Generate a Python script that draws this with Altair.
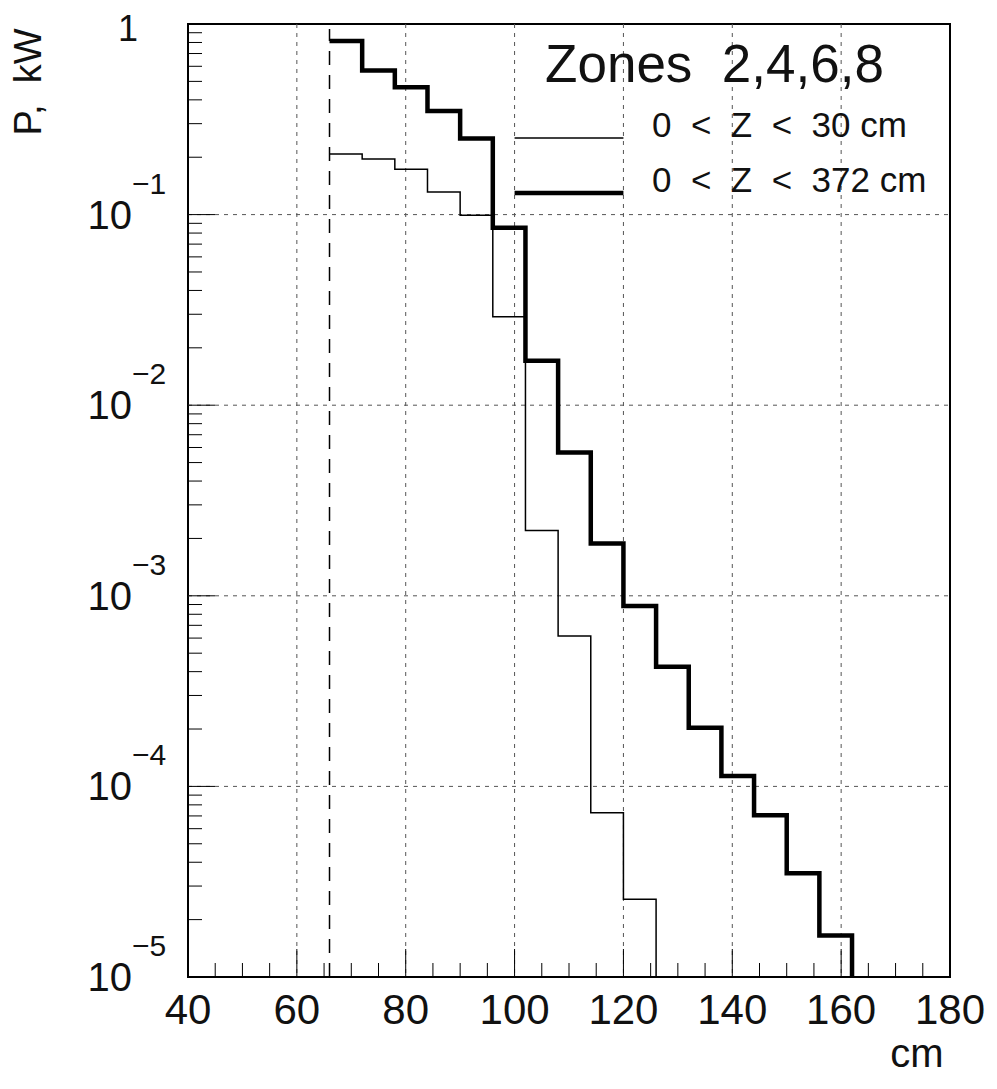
import altair as alt
import pandas as pd

# ---- data ----
bin_edges = [66, 72, 78, 84, 90, 96, 102, 108, 114, 120, 126, 132, 138, 144, 150, 156, 162]
p_full = [0.814, 0.571, 0.466, 0.350, 0.251, 0.0854, 0.01713, 0.00564, 0.00188,
          0.000884, 0.000424, 0.000203, 0.0001135, 7.05e-5, 3.50e-5, 1.65e-5]   # 0 < Z < 372 cm
p_30 = [0.208, 0.196, 0.173, 0.1315, 0.0991, 0.0291, 0.00220, 0.000615, 7.28e-5, 2.56e-5]  # 0 < Z < 30 cm
NB = "\u00a0"
S2 = NB + NB
series_names = [f"0{S2}<{S2}Z{S2}<{S2}30{NB}cm", f"0{S2}<{S2}Z{S2}<{S2}372{NB}cm"]
title_text = f"Zones{NB}{NB}2,4,6,8"

x_major = [40, 60, 80, 100, 120, 140, 160, 180]
x_minor = [v for v in range(45, 180, 5) if v % 20 != 0]
x_grid = [60, 80, 100, 120, 140, 160]
decades = [1e-1, 1e-2, 1e-3, 1e-4, 1e-5]
exponents = ["\u22121", "\u22122", "\u22123", "\u22124", "\u22125"]
y_grid = [1e-1, 1e-2, 1e-3, 1e-4]
y_minor = [m * 10.0 ** k for k in range(-5, 0) for m in range(2, 10)]
cut_x = 66
cut_top = 0.94

XMIN, XMAX = 40, 180
YMIN, YMAX = 1e-5, 1.0
W, H = 762, 953
FONT = "Liberation Sans"
TXT = "#111111"

# ---- build step tables ----
def steps(values, name):
    rows = []
    o = 0
    for i, v in enumerate(values):
        rows.append({"x": bin_edges[i], "y": v, "o": o, "s": name}); o += 1
        rows.append({"x": bin_edges[i + 1], "y": v, "o": o, "s": name}); o += 1
    rows.append({"x": bin_edges[len(values)], "y": YMIN, "o": o, "s": name})
    return pd.DataFrame(rows)

thin_df = steps(p_30, series_names[0])
thick_df = steps(p_full, series_names[1])

xs = alt.Scale(domain=[XMIN, XMAX], nice=False, zero=False)
ys = alt.Scale(type="log", domain=[YMIN, YMAX], nice=False)
X = lambda f: alt.X(f, type="quantitative", scale=xs, axis=None)
Y = lambda f: alt.Y(f, type="quantitative", scale=ys, axis=None)

grid_style = dict(color="#555555", strokeWidth=1, strokeDash=[4, 5])

vgrid = alt.Chart(pd.DataFrame({"x": x_grid})).mark_rule(**grid_style).encode(
    x=X("x"), y=alt.value(0), y2=alt.value(H))
hgrid = alt.Chart(pd.DataFrame({"y": y_grid})).mark_rule(**grid_style).encode(
    y=Y("y"), x=alt.value(0), x2=alt.value(W))

xt_minor = alt.Chart(pd.DataFrame({"x": x_minor})).mark_rule(color="black", strokeWidth=1).encode(
    x=X("x"), y=alt.value(H - 14), y2=alt.value(H))
xt_major = alt.Chart(pd.DataFrame({"x": x_grid})).mark_rule(color="black", strokeWidth=1).encode(
    x=X("x"), y=alt.value(H - 28), y2=alt.value(H))
yt_minor = alt.Chart(pd.DataFrame({"y": y_minor})).mark_rule(color="black", strokeWidth=1).encode(
    y=Y("y"), x=alt.value(0), x2=alt.value(14))
yt_major = alt.Chart(pd.DataFrame({"y": y_grid})).mark_rule(color="black", strokeWidth=1).encode(
    y=Y("y"), x=alt.value(0), x2=alt.value(27))

cut = alt.Chart(pd.DataFrame({"x": [cut_x], "y": [YMIN], "y2": [cut_top]})).mark_rule(
    color="black", strokeWidth=1.5, strokeDash=[14, 10]).encode(
    x=X("x"), y=Y("y"), y2="y2")

thin_line = alt.Chart(thin_df).mark_line(color="black", strokeWidth=1.5, interpolate="linear").encode(
    x=X("x"), y=Y("y"), order="o")
thick_line = alt.Chart(thick_df).mark_line(color="black", strokeWidth=4.5, interpolate="linear").encode(
    x=X("x"), y=Y("y"), order="o")

# legend (hand drawn, as in the reference)
leg = pd.DataFrame({"x": [100, 100], "x2": [120, 120], "y": [0.252, 0.130],
                    "s": series_names, "lx": [125.25, 125.25]})
leg_thin = alt.Chart(leg.iloc[[0]]).mark_rule(color="black", strokeWidth=1.5).encode(
    x=X("x"), x2="x2", y=Y("y"))
leg_thick = alt.Chart(leg.iloc[[1]]).mark_rule(color="black", strokeWidth=4.5).encode(
    x=X("x"), x2="x2", y=Y("y"))
leg_text = alt.Chart(leg).mark_text(
    font=FONT, fontSize=35, align="left", baseline="alphabetic", dy=-1, color=TXT).encode(
    x=X("lx"), y=Y("y"), text="s")
title = alt.Chart(pd.DataFrame({"x": [105.6], "y": [0.496], "t": [title_text]})).mark_text(
    font=FONT, fontSize=53, align="left", baseline="alphabetic", color=TXT).encode(
    x=X("x"), y=Y("y"), text="t")

# axis labels
ylab = alt.Chart(pd.DataFrame({"y": decades, "t": ["10"] * 5, "x": [XMIN] * 5})).mark_text(
    font=FONT, fontSize=40, align="right", baseline="alphabetic", dx=-56, dy=14, color=TXT).encode(
    x=X("x"), y=Y("y"), text="t")
yexp = alt.Chart(pd.DataFrame({"y": decades, "t": exponents, "x": [XMIN] * 5})).mark_text(
    font=FONT, fontSize=30, align="left", baseline="alphabetic", dx=-56, dy=-21, color=TXT).encode(
    x=X("x"), y=Y("y"), text="t")
yone = alt.Chart(pd.DataFrame({"y": [YMAX], "t": ["1"], "x": [XMIN]})).mark_text(
    font=FONT, fontSize=36, align="right", baseline="alphabetic", dx=-50, dy=17, color=TXT).encode(
    x=X("x"), y=Y("y"), text="t")
xlab = alt.Chart(pd.DataFrame({"x": x_major, "t": [str(v) for v in x_major], "y": [YMIN] * len(x_major)})).mark_text(
    font=FONT, fontSize=42, align="center", baseline="alphabetic", dy=47, color=TXT).encode(
    x=X("x"), y=Y("y"), text="t")
xtitle = alt.Chart(pd.DataFrame({"x": [173.9], "y": [YMIN], "t": ["cm"]})).mark_text(
    font=FONT, fontSize=40, align="center", baseline="alphabetic", dy=90, color=TXT).encode(
    x=X("x"), y=Y("y"), text="t")
ytitle = alt.Chart(pd.DataFrame({"x": [11.0], "y": [0.4963], "t": [f"P,{NB}{NB}kW"]})).mark_text(
    font=FONT, fontSize=38, align="center", baseline="middle", angle=270, color=TXT).encode(
    x=X("x"), y=Y("y"), text="t")

chart = alt.layer(
    vgrid, hgrid, xt_minor, xt_major, yt_minor, yt_major, cut,
    thin_line, thick_line, leg_thin, leg_thick, leg_text, title,
    ylab, yexp, yone, xlab, xtitle, ytitle,
).properties(
    width=W, height=H,
    autosize=alt.AutoSizeParams(type="none"),
    padding={"left": 180, "top": 16, "right": 38, "bottom": 100},
    background="white",
).configure_view(stroke="black", strokeWidth=2)

chart.save("out.html", embed_options={"renderer": "svg", "actions": False})
